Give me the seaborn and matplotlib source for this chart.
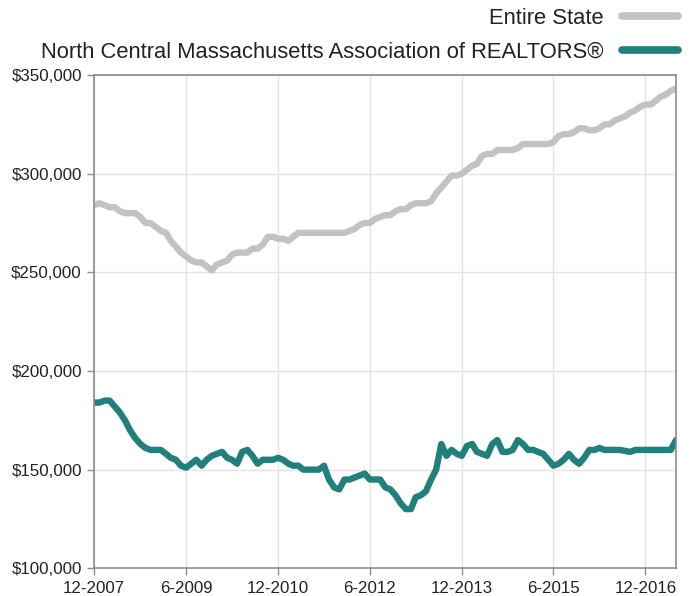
import numpy as np
import pandas as pd
import matplotlib
matplotlib.use("Agg")
import matplotlib.pyplot as plt
import seaborn as sns
from matplotlib.ticker import FuncFormatter
from matplotlib.lines import Line2D

# ---- data (monthly, 12-2007 .. 6-2017), values in thousands of dollars ----
start_month = "2007-12-01"
series_names = ["Entire State", "North Central Massachusetts Association of REALTORS®"]

entire_state = [
    284, 285, 284, 283, 283, 281, 280, 280, 280, 278,
    275, 275, 273, 271, 270, 266, 263, 260, 258, 256,
    255, 255, 253, 251, 254, 255, 256, 259, 260, 260,
    260, 262, 262, 264, 268, 268, 267, 267, 266, 268,
    270, 270, 270, 270, 270, 270, 270, 270, 270, 270,
    271, 272, 274, 275, 275, 277, 278, 279, 279, 281,
    282, 282, 284, 285, 285, 285, 286, 290, 293, 296,
    299, 299, 300, 302, 304, 305, 309, 310, 310, 312,
    312, 312, 312, 313, 315, 315, 315, 315, 315, 315,
    316, 319, 320, 320, 321, 323, 323, 322, 322, 323,
    325, 325, 327, 328, 329, 331, 332, 334, 335, 335,
    337, 339, 340, 342, 343,
]

north_central = [
    184, 184, 185, 185, 182, 179, 175, 170, 166, 163,
    161, 160, 160, 160, 158, 156, 155, 152, 151, 153,
    155, 152, 155, 157, 158, 159, 156, 155, 153, 159,
    160, 157, 153, 155, 155, 155, 156, 155, 153, 152,
    152, 150, 150, 150, 150, 152, 145, 141, 140, 145,
    145, 146, 147, 148, 145, 145, 145, 141, 140, 137,
    133, 130, 130, 136, 137, 139, 145, 150, 163, 157,
    160, 158, 157, 162, 163, 159, 158, 157, 163, 165,
    159, 159, 160, 165, 163, 160, 160, 159, 158, 155,
    152, 153, 155, 158, 155, 153, 156, 160, 160, 161,
    160, 160, 160, 160, 159.5, 159, 160, 160, 160, 160,
    160, 160, 160, 160, 165,
]

tick_labels = ["12-2007", "6-2009", "12-2010", "6-2012", "12-2013", "6-2015", "12-2016"]
y_ticks = [100000, 150000, 200000, 250000, 300000, 350000]

colors = {series_names[0]: "#c2c2c2", series_names[1]: "#21807b"}

# ---- build long-form table ----
dates = pd.date_range(start_month, periods=len(entire_state), freq="MS")
df = pd.concat([
    pd.DataFrame({"date": dates, "price": np.array(entire_state) * 1000, "series": series_names[0]}),
    pd.DataFrame({"date": dates, "price": np.array(north_central) * 1000, "series": series_names[1]}),
])

sns.set_theme(style="white")
plt.rcParams["font.family"] = ["Liberation Sans", "DejaVu Sans"]

fig = plt.figure(figsize=(6.91, 5.96), dpi=100)
ax = fig.add_axes([94.3 / 691, 1 - 568.3 / 596, (676 - 94.3) / 691, (568.3 - 75) / 596])

sns.lineplot(data=df, x="date", y="price", hue="series", palette=colors,
             linewidth=4.6, ax=ax, legend=False, solid_capstyle="round",
             solid_joinstyle="round")

ax.set_xlim(dates[0], dates[-1])
ax.set_ylim(y_ticks[0], y_ticks[-1])

tick_dates = [pd.Timestamp(year=int(t.split("-")[1]), month=int(t.split("-")[0]), day=1) for t in tick_labels]
ax.set_xticks(tick_dates)
ax.set_xticklabels(tick_labels)
ax.set_yticks(y_ticks)
ax.yaxis.set_major_formatter(FuncFormatter(lambda v, p: f"${v:,.0f}"))

ax.set_xlabel("")
ax.set_ylabel("")
ax.grid(True, color="#e3e3e3", linewidth=1.0)
ax.set_axisbelow(True)
for s in ax.spines.values():
    s.set_visible(True)
    s.set_color("#8c8c8c")
    s.set_linewidth(1.2)

ax.tick_params(axis="both", which="major", direction="out", length=5, width=1,
               color="#8c8c8c", labelsize=12.2, labelcolor="#222222", pad=4,
               bottom=True, left=True)

# legend (text right-aligned, line handle on the right)
handles = [Line2D([0], [0], color=colors[n], linewidth=5.5, solid_capstyle="round") for n in series_names]
leg = fig.legend(handles, series_names, loc="upper right",
                 bbox_to_anchor=(678 / 691, 1 - 8 / 596),
                 frameon=False, markerfirst=False, fontsize=15.8, handlelength=2.55,
                 handletextpad=0.85, labelspacing=0.58, borderaxespad=0.0,
                 borderpad=0.0)
for t in leg.get_texts():
    t.set_color("#222222")

fig.savefig("out.png", dpi=100)
